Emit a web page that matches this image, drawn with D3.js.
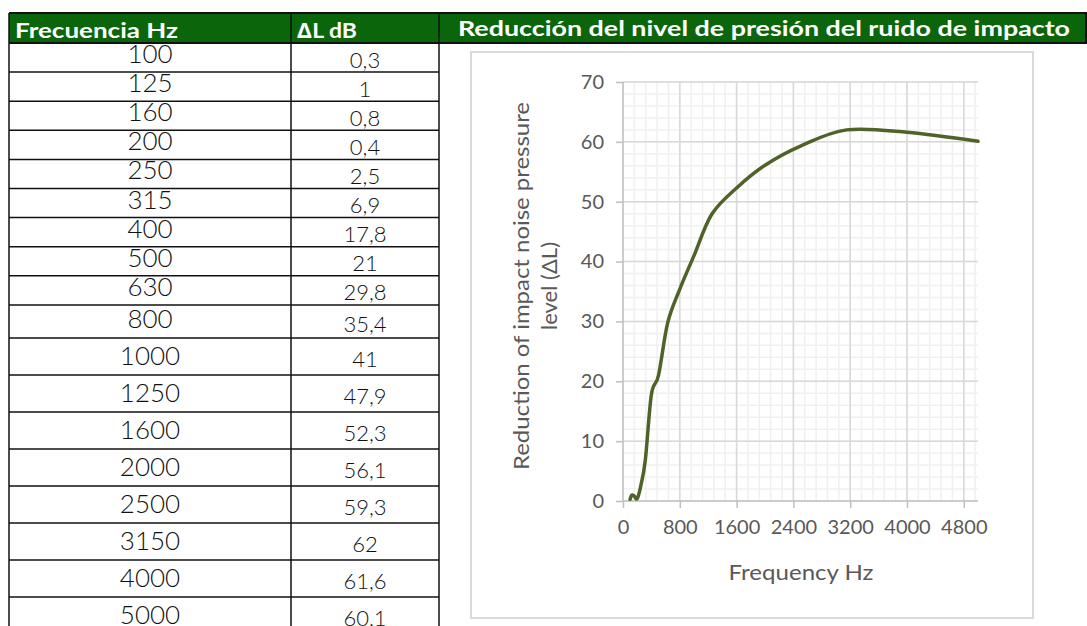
<!DOCTYPE html>
<html><head><meta charset="utf-8">
<script src="https://cdn.jsdelivr.net/npm/d3@7"></script>
<style>body{margin:0;background:#fff;overflow:hidden}</style>
</head><body>
<svg id="c" width="1087" height="626"></svg>
<script>
// ---- data ----
const frequencies = [100,125,160,200,250,315,400,500,630,800,1000,1250,1600,2000,2500,3150,4000,5000];
const deltaL = [0.3,1,0.8,0.4,2.5,6.9,17.8,21,29.8,35.4,41,47.9,52.3,56.1,59.3,62,61.6,60.1];
const xTicks = [0,800,1600,2400,3200,4000,4800];
const yTicks = [0,10,20,30,40,50,60,70];
const headers = ["Frecuencia Hz","\u2206L dB"];
const chartTitle = "Reducción del nivel de presión del ruido de impacto";
const yTitleLines = ["Reduction of impact noise pressure","level (\u0394L)"];
const xTitle = "Frequency Hz";

// ---- layout ----
const svg = d3.select("#c");
const W = 1087;
const tblL = 9, colMid = 291, tblR = 439;
const headTop = 13, headBot = 43;
const green = "#0b650b";
const tableFont = "'Lato','Open Sans',sans-serif";
const chartFont = "'Lato','Open Sans',sans-serif";

// row boundaries
const rowTops = [];
let yy = headBot;
frequencies.forEach((f,i)=>{
  const h = i < 9 ? 29.1 : (i === 9 ? 33 : 37);
  rowTops.push([yy, yy+h]);
  yy += h;
});

// header band
svg.append("rect").attr("x",tblL).attr("y",headTop).attr("width",W-tblL).attr("height",headBot-headTop).attr("fill",green);
svg.append("text").attr("x",15).attr("y",38).attr("fill","#fff").attr("font-family",tableFont).attr("font-weight",700)
  .attr("font-size",21).attr("textLength",163).attr("lengthAdjust","spacingAndGlyphs").text(headers[0]);
svg.append("text").attr("x",297).attr("y",38).attr("fill","#fff").attr("font-family",tableFont).attr("font-weight",700)
  .attr("font-size",21).attr("textLength",60).attr("lengthAdjust","spacingAndGlyphs").text(headers[1]);
svg.append("text").attr("x",458).attr("y",36).attr("fill","#fff").attr("font-family",tableFont).attr("font-weight",700)
  .attr("font-size",21).attr("textLength",612).attr("lengthAdjust","spacingAndGlyphs").text(chartTitle);

// table cells text
const fmt = v => String(v).replace(".",",");
const rows = svg.append("g");
frequencies.forEach((f,i)=>{
  const [t,b] = rowTops[i];
  const small = i < 9;
  rows.append("text").attr("x",(tblL+colMid)/2).attr("y", small ? t+20 : b-10)
    .attr("text-anchor","middle").attr("font-family",tableFont).attr("font-weight",300)
    .attr("font-size",26).attr("fill","#111").text(f);
  rows.append("text").attr("x",(colMid+tblR)/2).attr("y", small ? b-4.5 : (i===9 ? b-6 : b-8))
    .attr("text-anchor","middle").attr("font-family",tableFont).attr("font-weight",300)
    .attr("font-size",22).attr("fill","#111").text(fmt(deltaL[i]));
});

// table lines
const lines = svg.append("g").attr("stroke","#111").attr("stroke-width",1.5);
rowTops.forEach(([t,b])=>{
  lines.append("line").attr("x1",tblL).attr("x2",tblR).attr("y1",b).attr("y2",b);
});
[tblL, colMid, tblR].forEach(x=>{
  lines.append("line").attr("x1",x).attr("x2",x).attr("y1",headTop).attr("y2",626);
});
lines.append("line").attr("x1",tblL).attr("x2",W).attr("y1",headTop).attr("y2",headTop).attr("stroke-width",2);
lines.append("line").attr("x1",tblL).attr("x2",W).attr("y1",headBot).attr("y2",headBot).attr("stroke-width",2);
lines.append("line").attr("x1",W-1).attr("x2",W-1).attr("y1",headTop).attr("y2",headBot).attr("stroke-width",2);

// ---- chart ----
svg.append("rect").attr("x",471).attr("y",52).attr("width",562).attr("height",566)
  .attr("fill","#fff").attr("stroke","#d9d9d9").attr("stroke-width",2);

const x = d3.scaleLinear().domain([0,5000]).range([623,978]);
const y = d3.scaleLinear().domain([0,70]).range([501,82]);

const g = svg.append("g");
// minor grid
g.append("g").selectAll("line").data(d3.range(0,5000,160)).join("line")
  .attr("x1",d=>x(d)).attr("x2",d=>x(d)).attr("y1",y(70)).attr("y2",y(0))
  .attr("stroke","#f0f0f0").attr("stroke-width",1.5);
g.append("g").selectAll("line").data(d3.range(0,71,2)).join("line")
  .attr("x1",x(0)).attr("x2",x(5000)).attr("y1",d=>y(d)).attr("y2",d=>y(d))
  .attr("stroke","#f0f0f0").attr("stroke-width",1.5);
// major grid
g.append("g").selectAll("line").data(xTicks.slice(1)).join("line")
  .attr("x1",d=>x(d)).attr("x2",d=>x(d)).attr("y1",y(70)).attr("y2",y(0))
  .attr("stroke","#d9d9d9").attr("stroke-width",1.5);
g.append("g").selectAll("line").data(yTicks.slice(1)).join("line")
  .attr("x1",x(0)).attr("x2",x(5000)).attr("y1",d=>y(d)).attr("y2",d=>y(d))
  .attr("stroke","#d9d9d9").attr("stroke-width",1.5);

// axes
const yAxis = d3.axisLeft(y).tickValues(yTicks).tickSize(7).tickPadding(12).tickFormat(d3.format("d"));
const xAxis = d3.axisBottom(x).tickValues(xTicks).tickSize(7).tickPadding(12).tickFormat(d3.format("d"));
const ya = g.append("g").attr("transform",`translate(${x(0)},0)`).call(yAxis);
const xa = g.append("g").attr("transform",`translate(0,${y(0)})`).call(xAxis);
[ya,xa].forEach(a=>{
  a.select(".domain").remove();
  a.selectAll(".tick line").attr("stroke","#bfbfbf").attr("stroke-width",1.5);
  a.selectAll(".tick text").attr("fill","#595959").attr("font-family",chartFont).attr("font-size",20);
});
g.append("line").attr("x1",x(0)).attr("x2",x(0)).attr("y1",y(70)).attr("y2",y(0)).attr("stroke","#bfbfbf").attr("stroke-width",1.5);
g.append("line").attr("x1",x(0)).attr("x2",x(5000)).attr("y1",y(0)).attr("y2",y(0)).attr("stroke","#bfbfbf").attr("stroke-width",1.5);

// line
const pts = frequencies.map((f,i)=>[f,deltaL[i]]);
g.append("path").datum(pts)
  .attr("d", d3.line().x(d=>x(d[0])).y(d=>y(d[1])).curve(d3.curveCatmullRom.alpha(0)))
  .attr("fill","none").attr("stroke","#4f6228").attr("stroke-width",3.5).attr("stroke-linejoin","round").attr("stroke-linecap","round");

// titles
svg.append("text").attr("transform","translate(529,286) rotate(-90)").attr("text-anchor","middle")
  .attr("fill","#595959").attr("font-family",chartFont).attr("font-size",22)
  .attr("textLength",368).attr("lengthAdjust","spacingAndGlyphs").text(yTitleLines[0]);
svg.append("text").attr("transform","translate(557,286) rotate(-90)").attr("text-anchor","middle")
  .attr("fill","#595959").attr("font-family",chartFont).attr("font-size",22).text(yTitleLines[1]);
svg.append("text").attr("x",801).attr("y",580).attr("text-anchor","middle")
  .attr("fill","#595959").attr("font-family",chartFont).attr("font-size",21)
  .attr("textLength",145).attr("lengthAdjust","spacingAndGlyphs").text(xTitle);
</script>
</body></html>
